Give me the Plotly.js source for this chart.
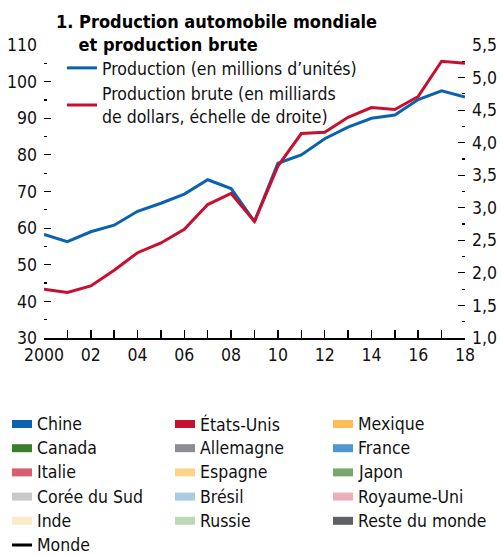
<!DOCTYPE html>
<html>
<head>
<meta charset="utf-8">
<script src="https://cdn.plot.ly/plotly-3.0.1.min.js"></script>
<style>html,body{margin:0;padding:0;background:#fff;}#chart{width:501px;height:555px;}</style>
</head>
<body>
<div id="chart"></div>
<script>
// ---- Data ----
var years = [2000,2001,2002,2003,2004,2005,2006,2007,2008,2009,2010,2011,2012,2013,2014,2015,2016,2017,2018];
var production = [58.3,56.3,59.0,60.8,64.6,66.8,69.3,73.2,70.8,61.8,77.7,80.0,84.4,87.6,90.0,90.9,95.1,97.5,95.8];
var grossOutput = [1.75,1.70,1.80,2.04,2.31,2.46,2.67,3.05,3.22,2.79,3.64,4.14,4.16,4.39,4.54,4.51,4.71,5.25,5.22];
var xTickVals = years;
var xTickText = ['2000','','02','','04','','06','','08','','10','','12','','14','','16','','18'];
var seriesNames = ['Production (en millions d\u2019unités)', 'Production brute (en milliards<br>de dollars, échelle de droite)'];
var keyNames = ['Chine','États-Unis','Mexique','Canada','Allemagne','France','Italie','Espagne','Japon','Corée du Sud','Brésil','Royaume-Uni','Inde','Russie','Reste du monde'];
var keyColors = ['#0b62b0','#c8102e','#fdbd56','#3a7d2c','#8d8e92','#5196cd','#d95f70','#fdd28b','#79a76d','#c8c9cb','#a9cbe6','#ecaeb9','#feeac8','#bdd8b6','#5f6063'];
var worldName = 'Monde';

var FONT = "'DejaVu Sans Condensed', 'DejaVu Sans', sans-serif";
var BLUE = '#0b62b0', RED = '#c8102e';

// plot area geometry (pixels) for positioning the key
var L = 44, R = 465, T = 45, B = 338;
function px(x){ return (x - L) / (R - L); }
function py(y){ return (B - y) / (B - T); }

var traces = [
  {x: years, y: grossOutput, type: 'scatter', mode: 'lines', name: seriesNames[1], yaxis: 'y2',
   line: {color: RED, width: 3}, legendrank: 2},
  {x: years, y: production, type: 'scatter', mode: 'lines', name: seriesNames[0], yaxis: 'y',
   line: {color: BLUE, width: 3}, legendrank: 1}
];

var shapes = [], annotations = [];
var colX = [12, 175, 333], rowY0 = 424, rowH = 24.2;
var keyFont = {family: FONT, size: 17.5, color: '#111'};
for (var i = 0; i < keyNames.length; i++) {
  var c = i % 3, r = Math.floor(i / 3);
  var sx = colX[c], sy = rowY0 + r * rowH;
  shapes.push({type: 'rect', xref: 'paper', yref: 'paper', x0: px(sx), x1: px(sx + 20), y0: py(sy + 4), y1: py(sy - 4),
               fillcolor: keyColors[i], line: {width: 0}});
  annotations.push({xref: 'paper', yref: 'paper', x: px(sx + 23), y: py(sy), xanchor: 'left', yanchor: 'middle',
                    text: keyNames[i], showarrow: false, font: keyFont});
}
var wy = rowY0 + 5 * rowH;
shapes.push({type: 'line', xref: 'paper', yref: 'paper', x0: px(12), x1: px(32), y0: py(wy), y1: py(wy),
             line: {color: '#000', width: 3}});
annotations.push({xref: 'paper', yref: 'paper', x: px(35), y: py(wy), xanchor: 'left', yanchor: 'middle',
                  text: worldName, showarrow: false, font: keyFont});

var tickFont = {family: FONT, size: 17.5, color: '#111'};
var layout = {
  width: 501, height: 555,
  margin: {l: L, r: 501 - R, t: T, b: 555 - B, pad: 0},
  paper_bgcolor: '#fff', plot_bgcolor: '#fff',
  separators: ', ',
  font: {family: FONT, size: 17, color: '#111'},
  title: {text: '<b>1. Production automobile mondiale</b><br><b>\u00A0\u00A0\u00A0\u00A0et production brute</b>',
          xref: 'container', yref: 'container', x: 56/501, xanchor: 'left', y: 1 - 28/555, yanchor: 'top',
          font: {family: FONT, size: 18, color: '#000'}},
  showlegend: true,
  legend: {x: px(62), y: py(50), xanchor: 'left', yanchor: 'top', bgcolor: 'rgba(0,0,0,0)',
           font: {family: FONT, size: 17.5, color: '#111'}, tracegroupgap: 0},
  xaxis: {range: [2000, 2018], tickmode: 'array', tickvals: xTickVals, ticktext: xTickText,
          ticks: 'inside', ticklen: 8, tickwidth: 1.5, tickcolor: '#000',
          showline: true, linecolor: '#000', linewidth: 1.5, showgrid: false, zeroline: false,
          tickfont: tickFont},
  yaxis: {range: [30, 110], dtick: 10, tick0: 30, ticks: 'inside', ticklen: 7, tickwidth: 1.2, tickcolor: '#000',
          showline: false, showgrid: false, zeroline: false, ticklabelstandoff: 6,
          minor: {dtick: 5, ticks: 'inside', ticklen: 3, tickwidth: 1.2, tickcolor: '#000'},
          tickfont: tickFont},
  yaxis2: {range: [1, 5.5], dtick: 0.5, tick0: 1, tickformat: '.1f', overlaying: 'y', side: 'right',
           ticks: 'inside', ticklen: 7, tickwidth: 1.2, tickcolor: '#000',
           showline: false, showgrid: false, zeroline: false, ticklabelstandoff: 6,
           minor: {dtick: 0.25, ticks: 'inside', ticklen: 3, tickwidth: 1.2, tickcolor: '#000'},
           tickfont: tickFont},
  shapes: shapes,
  annotations: annotations
};

Plotly.newPlot('chart', traces, layout, {displayModeBar: false, staticPlot: true});
</script>
</body>
</html>
